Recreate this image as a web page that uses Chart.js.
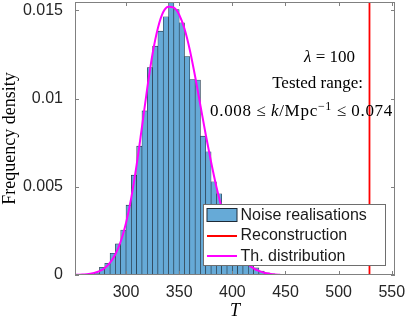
<!DOCTYPE html>
<html>
<head>
<meta charset="utf-8">
<script src="https://cdn.jsdelivr.net/npm/chart.js@4.4.1/dist/chart.umd.min.js"></script>
<style>
  html, body { margin: 0; padding: 0; background: #fff; }
</style>
</head>
<body>
<canvas id="myChart" width="405" height="317"></canvas>
<script>
// histogram: centre of each 5-wide bin and its frequency density
const binCentres = [257.5, 262.5, 267.5, 272.5, 277.5, 282.5, 287.5, 292.5, 297.5, 302.5,
  307.5, 312.5, 317.5, 322.5, 327.5, 332.5, 337.5, 342.5, 347.5, 352.5,
  357.5, 362.5, 367.5, 372.5, 377.5, 382.5, 387.5, 392.5, 397.5, 402.5,
  407.5, 412.5, 417.5, 422.5, 427.5, 432.5, 437.5, 442.5, 447.5];
const noiseDensity = [0.00001, 0.00002, 0.00005, 0.00012, 0.00044, 0.00066, 0.00123, 0.00176, 0.00255, 0.00396,
  0.00566, 0.00730, 0.00930, 0.01176, 0.01297, 0.01382, 0.01463, 0.01560, 0.01504, 0.01429,
  0.01238, 0.01108, 0.01105, 0.00787, 0.00698, 0.00528, 0.00460, 0.00350, 0.00260, 0.00190,
  0.00130, 0.00090, 0.00060, 0.00040, 0.00022, 0.00012, 0.00006, 0.00003, 0.00001];

// theoretical distribution
const curveT = [252, 255, 260, 265, 270, 275, 280, 285, 290, 295, 300, 305, 310, 315, 320, 325,
  330, 335, 340, 345, 350, 355, 360, 365, 370, 375, 380, 385, 390, 395, 400, 405,
  410, 415, 420, 425, 430, 435, 440, 445];
const curveDensity = [0.00001, 0.00001, 0.00003, 0.00006, 0.00012, 0.00022, 0.00040, 0.00070, 0.00118, 0.00190,
  0.00295, 0.00440, 0.00625, 0.00840, 0.01060, 0.01255, 0.01400, 0.01490, 0.01520, 0.01515,
  0.01475, 0.01395, 0.01275, 0.01125, 0.00960, 0.00795, 0.00640, 0.00500, 0.00380, 0.00280,
  0.00200, 0.00138, 0.00092, 0.00060, 0.00038, 0.00023, 0.00013, 0.00007, 0.00003, 0.00001];

const reconstructionT = 529;

const xMin = 252, xMax = 553;
const yMin = 0, yMax = 0.01547;
const xTicks = [300, 350, 400, 450, 500, 550];
const yTicks = [0, 0.005, 0.01, 0.015];
const yTickLabels = ['0', '0.005', '0.01', '0.015'];
const legendLabels = ['Noise realisations', 'Reconstruction', 'Th. distribution'];

const barFill = '#66aad7';
const barEdge = '#1e2a36';
const axisGray = '#808080';

// box, inward ticks, annotation and legend
const decor = {
  id: 'decor',
  afterDatasetsDraw(chart) {
    const { ctx, chartArea: a, scales: { x, y } } = chart;
    ctx.save();

    ctx.strokeStyle = axisGray;
    ctx.lineWidth = 1;
    ctx.strokeRect(a.left + 0.5, a.top + 0.5, a.right - a.left - 1, a.bottom - a.top - 1);
    ctx.beginPath();
    xTicks.forEach(v => {
      const px = Math.round(x.getPixelForValue(v)) + 0.5;
      ctx.moveTo(px, a.bottom); ctx.lineTo(px, a.bottom - 4);
      ctx.moveTo(px, a.top); ctx.lineTo(px, a.top + 4);
    });
    yTicks.forEach(v => {
      const py = Math.round(y.getPixelForValue(v)) + 0.5;
      ctx.moveTo(a.left, py); ctx.lineTo(a.left + 4, py);
      ctx.moveTo(a.right, py); ctx.lineTo(a.right - 4, py);
    });
    ctx.stroke();

    // text block
    ctx.fillStyle = '#000';
    ctx.textBaseline = 'alphabetic';
    const serif = '17px "Liberation Serif"';
    const serifIt = 'italic 17px "Liberation Serif"';

    // line 1 : lambda = 100 (right edge ~355)
    ctx.font = serifIt;
    const wl = ctx.measureText('λ').width;
    ctx.font = serif;
    const w1 = ctx.measureText(' = 100').width;
    let sx = 355 - wl - w1;
    ctx.font = serifIt; ctx.fillText('λ', sx, 62);
    ctx.font = serif; ctx.fillText(' = 100', sx + wl, 62);

    // line 2
    ctx.textAlign = 'right';
    ctx.fillText('Tested range:', 363, 87.5);
    ctx.textAlign = 'left';

    // line 3, slightly spaced out to get the width of the TeX original
    ctx.letterSpacing = '0.7px';
    const segs = [
      { t: '0.008', f: serif },
      { gap: 1 }, { t: '≤', f: serif }, { gap: 1 },
      { t: 'k', f: serifIt },
      { t: '/Mpc', f: serif },
      { t: '−1', f: '12px "Liberation Serif"', up: 6 },
      { gap: 1 }, { t: '≤', f: serif }, { gap: 1 },
      { t: '0.074', f: serif }
    ];
    let natural = 0, gaps = 0;
    segs.forEach(s => {
      if (s.gap) { gaps++; return; }
      ctx.font = s.f; s.w = ctx.measureText(s.t).width; natural += s.w;
    });
    const g = (183 - natural) / gaps;
    sx = 210;
    segs.forEach(s => {
      if (s.gap) { sx += g; return; }
      ctx.font = s.f;
      ctx.fillText(s.t, sx, 115.5 - (s.up || 0));
      sx += s.w;
    });
    ctx.letterSpacing = '0px';

    // legend
    const lx = 203.5, ly = 204.5, lw = 182, lh = 61;
    ctx.fillStyle = '#fff';
    ctx.fillRect(lx, ly, lw, lh);
    ctx.strokeStyle = '#6e6e6e';
    ctx.strokeRect(lx, ly, lw, lh);

    ctx.fillStyle = barFill;
    ctx.fillRect(207, 208.5, 30, 13);
    ctx.strokeStyle = barEdge;
    ctx.strokeRect(207, 208.5, 30, 13);

    ctx.lineWidth = 2;
    ctx.strokeStyle = '#ff0000';
    ctx.beginPath(); ctx.moveTo(207, 236); ctx.lineTo(237, 236); ctx.stroke();
    ctx.strokeStyle = '#ff00ff';
    ctx.beginPath(); ctx.moveTo(207, 256); ctx.lineTo(237, 256); ctx.stroke();

    ctx.fillStyle = '#1a1a1a';
    ctx.font = '16px "Liberation Sans"';
    ctx.textBaseline = 'middle';
    ctx.fillText(legendLabels[0], 240.5, 215.5);
    ctx.fillText(legendLabels[1], 240.5, 236);
    ctx.fillText(legendLabels[2], 240.5, 256.5);

    ctx.restore();
  }
};

const data = {
  datasets: [
    {
      type: 'line',
      label: legendLabels[2],
      data: curveT.map((t, i) => ({ x: t, y: curveDensity[i] })),
      borderColor: '#ff00ff',
      borderWidth: 2,
      pointRadius: 0,
      cubicInterpolationMode: 'monotone',
      order: 1
    },
    {
      type: 'line',
      label: legendLabels[1],
      data: [{ x: reconstructionT, y: yMin }, { x: reconstructionT, y: yMax }],
      borderColor: '#ff0000',
      borderWidth: 1.8,
      pointRadius: 0,
      order: 2
    },
    {
      label: legendLabels[0],
      data: binCentres.map((c, i) => ({ x: c, y: noiseDensity[i] })),
      backgroundColor: barFill,
      borderColor: barEdge,
      borderWidth: 0.6,
      borderSkipped: false,
      barPercentage: 1,
      categoryPercentage: 1,
      order: 3
    }
  ]
};

const config = {
  type: 'bar',
  data,
  options: {
    responsive: false,
    animation: false,
    devicePixelRatio: 1,
    layout: { padding: { top: 2, right: 10, left: 0, bottom: 0 } },
    plugins: { legend: { display: false }, tooltip: { enabled: false } },
    scales: {
      x: {
        type: 'linear',
        min: xMin,
        max: xMax,
        offset: false,
        grid: { display: false, drawTicks: false },
        border: { display: false },
        afterBuildTicks: s => { s.ticks = xTicks.map(v => ({ value: v })); },
        afterFit: s => { s.height = 42; s.paddingLeft = 0; s.paddingRight = 0; },
        ticks: {
          color: '#262626',
          font: { family: 'Liberation Sans', size: 16 },
          padding: 8,
          maxRotation: 0,
          autoSkip: false,
          callback: v => String(v)
        },
        title: {
          display: true,
          text: 'T',
          color: '#000',
          font: { family: 'Liberation Serif', size: 18, style: 'italic', lineHeight: 1 },
          padding: { top: 0, bottom: -3 }
        }
      },
      y: {
        min: yMin,
        max: yMax,
        grid: { display: false, drawTicks: false },
        border: { display: false },
        afterBuildTicks: s => { s.ticks = yTicks.map(v => ({ value: v })); },
        afterFit: s => { s.width = 75; s.paddingTop = 0; s.paddingBottom = 0; },
        ticks: {
          color: '#262626',
          font: { family: 'Liberation Sans', size: 16 },
          padding: 12,
          callback: (v, i) => yTickLabels[i]
        },
        title: {
          display: true,
          text: 'Frequency density',
          color: '#000',
          font: { family: 'Liberation Serif', size: 18 },
          padding: { top: -1, bottom: 0 }
        }
      }
    }
  },
  plugins: [decor]
};

const myChart = new Chart(document.getElementById('myChart'), config);
</script>
</body>
</html>
